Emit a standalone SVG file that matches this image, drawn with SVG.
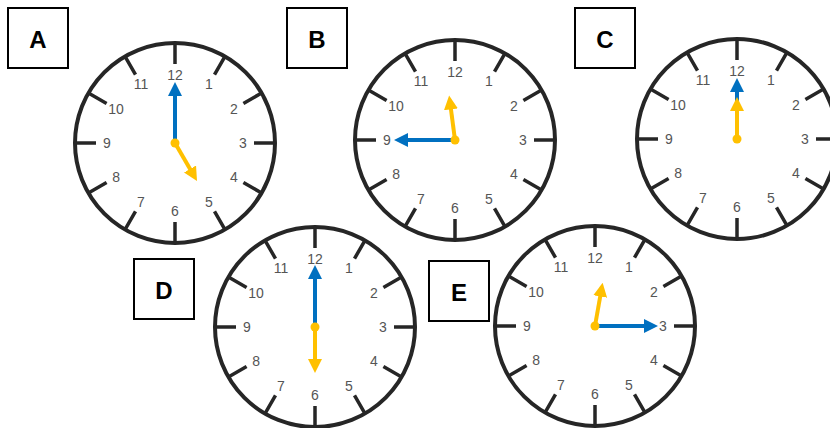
<svg xmlns="http://www.w3.org/2000/svg" xmlns:xlink="http://www.w3.org/1999/xlink" width="830" height="428" viewBox="0 0 830 428">
<style>
.rim{fill:#fff;stroke:#262626;stroke-width:4}
.tk{stroke:#262626;stroke-width:3.5;stroke-linecap:butt}
.num{font-family:"Liberation Sans",Arial,sans-serif;font-size:14px;fill:#555;text-anchor:middle;dominant-baseline:central}
.lbl rect{fill:#fff;stroke:#000;stroke-width:2}
.lbl text{font-family:"Liberation Sans",Arial,sans-serif;font-size:24px;font-weight:bold;fill:#000;text-anchor:middle;dominant-baseline:central}
.mh{stroke:#0070C0;stroke-width:4;fill:none}
.hh{stroke:#FFC000;stroke-width:4;fill:none}
.piv{fill:#FFC000}
</style>
<defs>
<marker id="ab" markerUnits="userSpaceOnUse" markerWidth="14" markerHeight="14" refX="1" refY="7" orient="auto"><path d="M0,0L14,7L0,14z" fill="#0070C0"/></marker>
<marker id="ay" markerUnits="userSpaceOnUse" markerWidth="14" markerHeight="14" refX="1" refY="7" orient="auto"><path d="M0,0L14,7L0,14z" fill="#FFC000"/></marker>
<g id="face">
<circle class="rim" cx="0" cy="0" r="100"/>
<path class="tk" d="M0,-100L0,-79M50,-86.6L39.5,-68.4M86.6,-50L68.4,-39.5M100,0L79,0M86.6,50L68.4,39.5M50,86.6L39.5,68.4M0,100L0,79M-50,86.6L-39.5,68.4M-86.6,50L-68.4,39.5M-100,0L-79,0M-86.6,-50L-68.4,-39.5M-50,-86.6L-39.5,-68.4"/>
</g>
</defs>

<g id="clock-a" transform="translate(175,143)">
<use xlink:href="#face" href="#face"/>
<text class="num" x="34" y="-58.9">1</text><text class="num" x="58.9" y="-34">2</text><text class="num" x="68" y="0">3</text><text class="num" x="58.9" y="34">4</text><text class="num" x="34" y="58.9">5</text><text class="num" x="0" y="68">6</text><text class="num" x="-34" y="58.9">7</text><text class="num" x="-58.9" y="34">8</text><text class="num" x="-68" y="0">9</text><text class="num" x="-58.9" y="-34">10</text><text class="num" x="-34" y="-58.9">11</text><text class="num" x="0" y="-68">12</text>
<line class="mh" x1="0" y1="0" x2="0" y2="-48" marker-end="url(#ab)"/>
<line class="hh" x1="0" y1="0" x2="15.5" y2="26.85" marker-end="url(#ay)"/>
<circle class="piv" cx="0" cy="0" r="4.5"/>
</g>

<g id="clock-b" transform="translate(455,140)">
<use xlink:href="#face" href="#face"/>
<text class="num" x="34" y="-58.9">1</text><text class="num" x="58.9" y="-34">2</text><text class="num" x="68" y="0">3</text><text class="num" x="58.9" y="34">4</text><text class="num" x="34" y="58.9">5</text><text class="num" x="0" y="68">6</text><text class="num" x="-34" y="58.9">7</text><text class="num" x="-58.9" y="34">8</text><text class="num" x="-68" y="0">9</text><text class="num" x="-58.9" y="-34">10</text><text class="num" x="-34" y="-58.9">11</text><text class="num" x="0" y="-68">12</text>
<line class="mh" x1="0" y1="0" x2="-48" y2="0" marker-end="url(#ab)"/>
<line class="hh" x1="0" y1="0" x2="-4.18" y2="-31.7" marker-end="url(#ay)"/>
<circle class="piv" cx="0" cy="0" r="4.5"/>
</g>

<g id="clock-c" transform="translate(737,139)">
<use xlink:href="#face" href="#face"/>
<text class="num" x="34" y="-58.9">1</text><text class="num" x="58.9" y="-34">2</text><text class="num" x="68" y="0">3</text><text class="num" x="58.9" y="34">4</text><text class="num" x="34" y="58.9">5</text><text class="num" x="0" y="68">6</text><text class="num" x="-34" y="58.9">7</text><text class="num" x="-58.9" y="34">8</text><text class="num" x="-68" y="0">9</text><text class="num" x="-58.9" y="-34">10</text><text class="num" x="-34" y="-58.9">11</text><text class="num" x="0" y="-68">12</text>
<line class="mh" x1="0" y1="0" x2="0" y2="-48" marker-end="url(#ab)"/>
<line class="hh" x1="0" y1="0" x2="0" y2="-29" marker-end="url(#ay)"/>
<circle class="piv" cx="0" cy="0" r="4.5"/>
</g>

<g id="clock-d" transform="translate(315,327)">
<use xlink:href="#face" href="#face"/>
<text class="num" x="34" y="-58.9">1</text><text class="num" x="58.9" y="-34">2</text><text class="num" x="68" y="0">3</text><text class="num" x="58.9" y="34">4</text><text class="num" x="34" y="58.9">5</text><text class="num" x="0" y="68">6</text><text class="num" x="-34" y="58.9">7</text><text class="num" x="-58.9" y="34">8</text><text class="num" x="-68" y="0">9</text><text class="num" x="-58.9" y="-34">10</text><text class="num" x="-34" y="-58.9">11</text><text class="num" x="0" y="-68">12</text>
<line class="mh" x1="0" y1="0" x2="0" y2="-49" marker-end="url(#ab)"/>
<line class="hh" x1="0" y1="0" x2="0" y2="33" marker-end="url(#ay)"/>
<circle class="piv" cx="0" cy="0" r="4.5"/>
</g>

<g id="clock-e" transform="translate(595,326)">
<use xlink:href="#face" href="#face"/>
<text class="num" x="34" y="-58.9">1</text><text class="num" x="58.9" y="-34">2</text><text class="num" x="68" y="0">3</text><text class="num" x="58.9" y="34">4</text><text class="num" x="34" y="58.9">5</text><text class="num" x="0" y="68">6</text><text class="num" x="-34" y="58.9">7</text><text class="num" x="-58.9" y="34">8</text><text class="num" x="-68" y="0">9</text><text class="num" x="-58.9" y="-34">10</text><text class="num" x="-34" y="-58.9">11</text><text class="num" x="0" y="-68">12</text>
<line class="mh" x1="0" y1="0" x2="50" y2="0" marker-end="url(#ab)"/>
<line class="hh" x1="0" y1="0" x2="5.38" y2="-30.5" marker-end="url(#ay)"/>
<circle class="piv" cx="0" cy="0" r="4.5"/>
</g>

<g id="label-a" class="lbl"><rect x="8" y="8" width="60" height="60"/><text x="38" y="39">A</text></g>
<g id="label-b" class="lbl"><rect x="287" y="8" width="60" height="60"/><text x="317" y="39">B</text></g>
<g id="label-c" class="lbl"><rect x="575" y="8" width="60" height="60"/><text x="605" y="39">C</text></g>
<g id="label-d" class="lbl"><rect x="134" y="259" width="60" height="60"/><text x="164" y="290">D</text></g>
<g id="label-e" class="lbl"><rect x="429" y="261" width="60" height="60"/><text x="459" y="292">E</text></g>
</svg>
